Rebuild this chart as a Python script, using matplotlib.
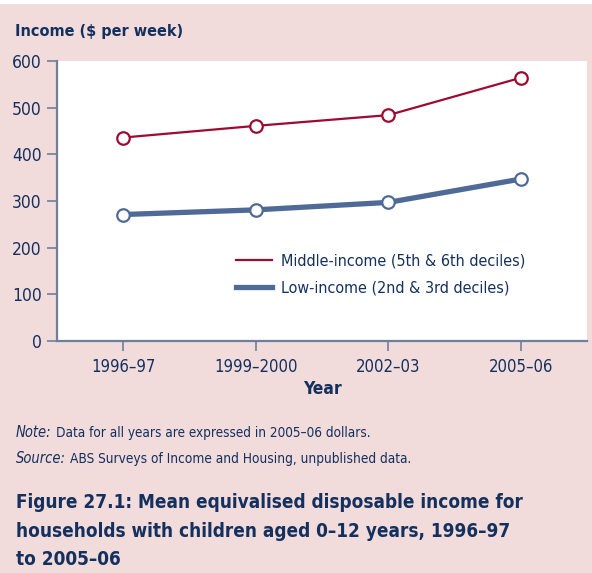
import numpy as np
import matplotlib
matplotlib.use('Agg')
import matplotlib.pyplot as plt
from matplotlib.patches import Rectangle

years = ['1996–97', '1999–2000', '2002–03', '2005–06']
middle_income = [436, 461, 484, 564]
low_income = [271, 281, 297, 347]

bg = '#f2dcdb'
navy = '#14305e'
red = '#9e0b31'
blue = '#4f6a96'
spine = '#6f7f9b'

plt.rcParams['font.family'] = ['DejaVu Sans']
plt.rcParams['font.stretch'] = 'condensed'

W, H = 592, 573
fig = plt.figure(figsize=(W/100, H/100), dpi=100, facecolor=bg)
fig.patches.append(Rectangle((0, 1 - 4/H), 1, 4/H, transform=fig.transFigure,
                             facecolor='white', edgecolor='none'))
ax = fig.add_axes([57/W, 1 - 341/H, 530/W, 280/H])
ax.set_facecolor('white')

xx = np.arange(len(years))
ax.plot(xx, middle_income, color=red, lw=1.6, marker='o', ms=9, mfc='white',
        mec=red, mew=1.6, label='Middle-income (5th & 6th deciles)', zorder=3)
ax.plot(xx, low_income, color=blue, lw=3.8, marker='o', ms=9, mfc='white',
        mec=blue, mew=1.6, label='Low-income (2nd & 3rd deciles)', zorder=3)

ax.set_xlim(-0.5, 3.5)
ax.set_ylim(0, 600)
ax.set_yticks(np.arange(0, 601, 100))
ax.set_xticks(xx)
ax.set_xticklabels(years)

for s in ['top', 'right']:
    ax.spines[s].set_visible(False)
ax.spines['left'].set_color(spine)
ax.spines['left'].set_linewidth(1.6)
ax.spines['bottom'].set_color(spine)
ax.spines['bottom'].set_linewidth(1.6)
ax.tick_params(axis='y', colors=spine, length=7, width=1.2, labelcolor=navy,
               labelsize=12.5, pad=4)
ax.tick_params(axis='x', colors=spine, length=7, width=1.2, labelcolor=navy,
               labelsize=12, pad=5)

ax.set_xlabel('Year', fontsize=12.5, fontweight='bold', color=navy, labelpad=3)

leg = ax.legend(loc='upper left', bbox_to_anchor=(0.31, 0.365), frameon=False,
                fontsize=11.5, handlelength=2.3, handletextpad=0.55,
                labelspacing=0.75)
for line in leg.get_lines():
    line.set_marker('')
for t in leg.get_texts():
    t.set_color(navy)

renderer = fig.canvas.get_renderer()


def fit_text(x, ybase, s, width, size, **kw):
    # scale the font so the text spans about `width` pixels
    t = fig.text(x/W, 1 - ybase/H, s, fontsize=size, color=navy, va='baseline',
                 ha='left', **kw)
    w = t.get_window_extent(renderer).width
    t.set_fontsize(size * width / w)
    return t


fit_text(15, 36, 'Income ($ per week)', 168, 12, fontweight='bold')

t1 = fig.text(16/W, 1 - 437/H, 'Note:', fontsize=10.5, color=navy, style='italic',
              va='baseline', ha='left')
x1 = t1.get_window_extent(renderer).x1 + 4
fit_text(x1, 437, 'Data for all years are expressed in 2005–06 dollars.', 372 - x1, 10)
t2 = fig.text(16/W, 1 - 463/H, 'Source:', fontsize=10.5, color=navy, style='italic',
              va='baseline', ha='left')
x2 = t2.get_window_extent(renderer).x1 + 4
fit_text(x2, 463, 'ABS Surveys of Income and Housing, unpublished data.', 412 - x2, 10)

title_lines = ['Figure 27.1: Mean equivalised disposable income for',
               'households with children aged 0–12 years, 1996–97',
               'to 2005–06']
tt = fit_text(16, 508, title_lines[0], 510, 14, fontweight='bold')
ts = tt.get_fontsize()
fig.text(16/W, 1 - 537/H, title_lines[1], fontsize=ts, fontweight='bold', color=navy,
         va='baseline', ha='left')
fig.text(16/W, 1 - 565/H, title_lines[2], fontsize=ts, fontweight='bold', color=navy,
         va='baseline', ha='left')

fig.savefig('out.png', dpi=100, facecolor=bg)
